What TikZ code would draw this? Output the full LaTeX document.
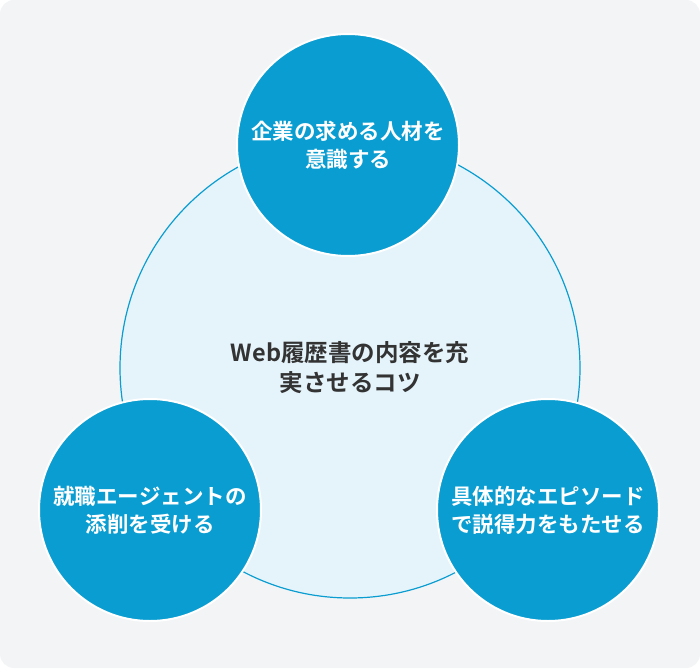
\documentclass[tikz,border=0pt]{standalone}
\usepackage{fontspec}
\newfontfamily\jpfont{Noto Sans CJK JP}[BoldFont={* Bold}]
\definecolor{panelgray}{HTML}{F2F4F6}
\definecolor{coreblue}{HTML}{E5F4FB}
\definecolor{tipblue}{HTML}{0A9DD1}
\definecolor{textgray}{HTML}{333333}
\tikzset{
  tip/.style={circle, minimum size=222pt, fill=tipblue, draw=white, line width=2pt,
    text=white, align=center, font=\jpfont\bfseries\fontsize{21.5}{28}\selectfont, inner sep=0pt},
}
\begin{document}
\begin{tikzpicture}[x=1pt,y=-1pt]
% --- panel ---
\fill[panelgray, rounded corners=14pt] (0,0) rectangle (700,668);
\useasboundingbox (0,0) rectangle (700,668);
% --- centre circle ---
\node[circle, minimum size=460pt, fill=coreblue, draw=tipblue, line width=1.2pt,
  text=textgray, align=center, font=\jpfont\bfseries\fontsize{23.5}{30}\selectfont]
  (core) at (350,368) {Web履歴書の内容を充\\実させるコツ};
% --- surrounding tips ---
\node[tip] (needs) at (348,145) {企業の求める人材を\\意識する};
\node[tip] (agent) at (150,510) {就職エージェントの\\添削を受ける};
\node[tip] (story) at (548,510) {具体的なエピソード\\で説得力をもたせる};
\end{tikzpicture}
\end{document}
